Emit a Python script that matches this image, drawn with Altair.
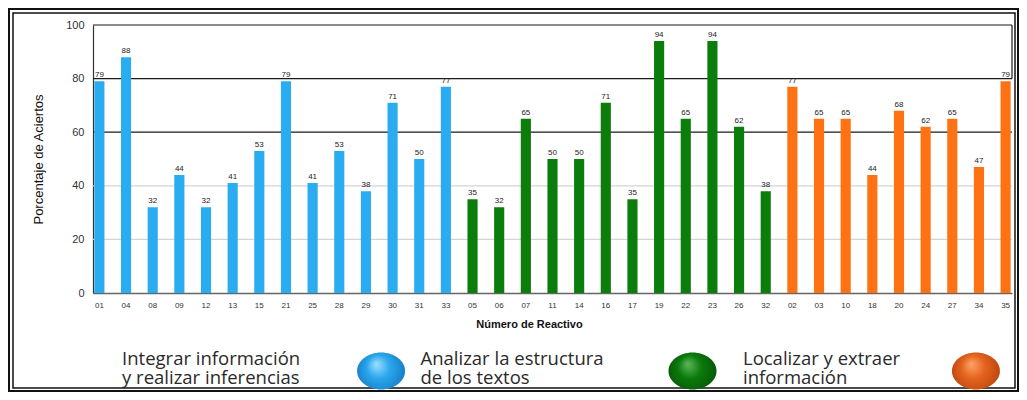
import altair as alt
import pandas as pd

# ---- data ----
reactivos_integrar = ["01", "04", "08", "09", "12", "13", "15", "21", "25", "28", "29", "30", "31", "33"]
aciertos_integrar = [79, 88, 32, 44, 32, 41, 53, 79, 41, 53, 38, 71, 50, 77]

reactivos_analizar = ["05", "06", "07", "11", "14", "16", "17", "19", "22", "23", "26", "32"]
aciertos_analizar = [35, 32, 65, 50, 50, 71, 35, 94, 65, 94, 62, 38]

reactivos_localizar = ["02", "03", "10", "18", "20", "24", "27", "34", "35"]
aciertos_localizar = [77, 65, 65, 44, 68, 62, 65, 47, 79]

grupos = ["Integrar", "Analizar", "Localizar"]
etiquetas_grupo = [
    ["Integrar información", "y realizar inferencias"],
    ["Analizar la estructura", "de los textos"],
    ["Localizar y extraer", "información"],
]
colores_barras = ["#2AADF0", "#0B7D0B", "#FF7214"]
gradientes = [
    ["#9fdfff", "#2aa6ec", "#1479c2"],
    ["#5cb85c", "#0b7a0b", "#065406"],
    ["#ffa468", "#e4631e", "#b8440e"],
]
grid_valores = [20, 40, 60, 80, 100]
y_ticks = [0, 20, 40, 60, 80, 100]

# ---- tables ----
filas = []
for g, rs, vs in zip(grupos,
                     [reactivos_integrar, reactivos_analizar, reactivos_localizar],
                     [aciertos_integrar, aciertos_analizar, aciertos_localizar]):
    for r, v in zip(rs, vs):
        filas.append({"reactivo": r, "valor": v, "grupo": g})
df = pd.DataFrame(filas)
orden = list(df["reactivo"])

df_grid = pd.DataFrame({"v": grid_valores})
df_leg = pd.DataFrame({"grupo": grupos, "etiqueta": etiquetas_grupo})
uno = pd.DataFrame({"k": [0]})

W, H = 919, 268
FONT = "Liberation Sans"

x_enc = alt.X(
    "reactivo:N", sort=orden,
    scale=alt.Scale(paddingInner=0.62, paddingOuter=0.05),
    axis=alt.Axis(
        title="Número de Reactivo", labelAngle=0, labelFontSize=8, labelColor="#333",
        labelFont=FONT, labelPadding=8, ticks=False, domainColor="#666", domainWidth=1.5,
        titleFont=FONT, titleFontSize=11, titleFontWeight="bold", titleColor="#111",
        titlePadding=9, titleX=436,
    ),
)
y_enc = alt.Y(
    "valor:Q", scale=alt.Scale(domain=[0, 100]),
    axis=alt.Axis(
        values=y_ticks, grid=False, ticks=False, labelPadding=9, labelFontSize=11,
        labelFont=FONT, labelColor="#333", domainColor="#333", domainWidth=1.2,
        title="Porcentaje de Aciertos", titleFont=FONT, titleFontSize=13,
        titleFontWeight="normal", titleColor="#111", titleX=-55, titleY=134,
        titleAngle=270, titleAlign="center", titleBaseline="middle",
    ),
)

frame_outer = alt.Chart(uno).mark_rect(fill=None, stroke="#111", strokeWidth=2).encode(
    x=alt.value(-84), x2=alt.value(W + 6), y=alt.value(-16), y2=alt.value(H + 98)
)
frame_inner = alt.Chart(uno).mark_rect(fill=None, stroke="#111", strokeWidth=1.5).encode(
    x=alt.value(-80), x2=alt.value(W + 3), y=alt.value(-12), y2=alt.value(H + 95)
)

grid = alt.Chart(df_grid).mark_rule(strokeWidth=1.2).encode(
    y=alt.Y("v:Q"),
    color=alt.condition("datum.v >= 60", alt.value("#1a1a1a"), alt.value("#d4d4d4")),
)
right_box = alt.Chart(uno).mark_rule(color="#1a1a1a", strokeWidth=1.2).encode(
    x=alt.value(W), y=alt.datum(80), y2=alt.datum(100)
)

bars = alt.Chart(df).mark_bar().encode(
    x=x_enc, y=y_enc,
    color=alt.Color("grupo:N", scale=alt.Scale(domain=grupos, range=colores_barras), legend=None),
)
labels = alt.Chart(df).mark_text(
    baseline="bottom", dy=-2, fontSize=8, color="#222", font=FONT
).encode(x=x_enc, y=alt.Y("valor:Q"), text="valor:Q")

barras = alt.layer(bars, labels)

# legend: text left of a shaded ellipse, one pair per group
text_dx = [-120, -132, -120]
ell_dx = [126, 140, 126]
elipse = "M-1,0A1,0.77,0,1,1,1,0A1,0.77,0,1,1,-1,0Z"
leg_layers = []
for g, st, tdx, edx in zip(grupos, gradientes, text_dx, ell_dx):
    leg_layers.append(
        alt.Chart(df_leg).transform_filter(alt.datum.grupo == g).mark_text(
            align="left", baseline="top", dx=tdx, fontSize=18.5, lineHeight=19,
            font="Open Sans", color="#2a2a2a"
        ).encode(
            x=alt.X("grupo:N", scale=alt.Scale(type="point", domain=grupos, padding=0.48), axis=None),
            y=alt.value(325),
            text="etiqueta",
        )
    )
    grad = alt.RadialGradient(
        gradient="radial", x1=0.4, y1=0.35, r1=0, x2=0.5, y2=0.5, r2=0.55,
        stops=[alt.GradientStop(offset=0, color=st[0]),
               alt.GradientStop(offset=0.45, color=st[1]),
               alt.GradientStop(offset=1, color=st[2])],
    )
    leg_layers.append(
        alt.Chart(df_leg).transform_filter(alt.datum.grupo == g).mark_point(
            shape=elipse, size=2304, filled=True, fill=grad, opacity=1, xOffset=edx
        ).encode(
            x=alt.X("grupo:N", scale=alt.Scale(type="point", domain=grupos, padding=0.545), axis=None),
            y=alt.value(346),
        )
    )

chart = alt.layer(
    frame_outer, frame_inner, grid, right_box, barras, *leg_layers
).resolve_scale(x="independent").properties(
    width=W, height=H,
    padding={"left": 85, "top": 17, "right": 7, "bottom": 99},
    autosize=alt.AutoSizeParams(type="none"),
    background="white",
).configure_view(stroke=None)

chart.save("out.html", embed_options={"renderer": "svg", "actions": False})
